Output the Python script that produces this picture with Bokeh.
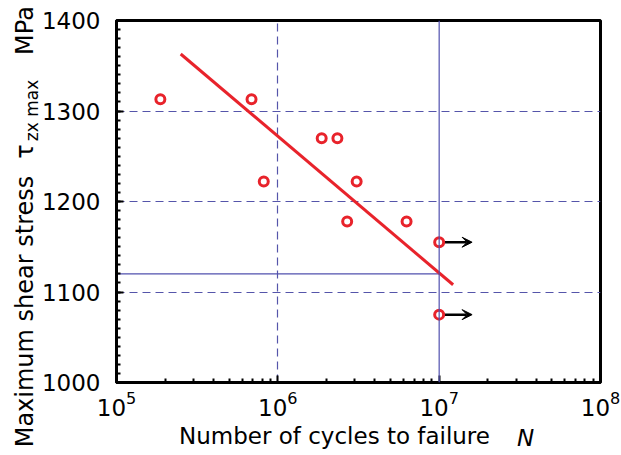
from bokeh.plotting import figure
from bokeh.models import FixedTicker, Arrow, VeeHead, Span, Range1d, LinearAxis, LinearScale
from bokeh.embed import file_html
from bokeh.resources import INLINE

# ---- data ----
cycles = [1.87e5, 6.87e5, 8.18e5, 1.87e6, 2.34e6, 3.08e6, 2.69e6, 6.28e6]
stress = [1313, 1313, 1222, 1270, 1270, 1222, 1178, 1178]
runout_cycles = [1.0e7, 1.0e7]
runout_stress = [1155, 1075]
fit_cycles = [2.5e5, 1.22e7]
fit_stress = [1363, 1108]
limit_cycles = [1.0e5, 1.0e7]
limit_stress = [1120, 1120]
knee_cycles = 1.0e7
x_major = [1e5, 1e6, 1e7, 1e8]
x_minor = [m * 10 ** e for e in (5, 6, 7) for m in range(2, 10)]
y_major = [1000, 1100, 1200, 1300, 1400]
y_minor = list(range(1000, 1401, 10))
xgrid_vals = [1e6]
ygrid_vals = [1100, 1200, 1300]
x_title = "Number of cycles to failure"
x_symbol = "N"
y_title = "Maximum shear stress"
y_symbol = "τ"
y_subscript = "zx max"
y_unit = "MPa"

RED = "#e8232b"
GRID = "#5555aa"
BLUE = "#5050ae"
FONT = "DejaVu Sans"

W, H = 621, 455
L, R, T, B = 116, 21, 20, 73

p = figure(width=W, height=H, x_axis_type="log", x_range=(1e5, 1e8),
           y_range=(1000, 1400), output_backend="svg", toolbar_location=None,
           min_border_left=L, min_border_right=R, min_border_top=T,
           min_border_bottom=B, background_fill_color="white",
           border_fill_color="white")

# pixel-like helper ranges used only to place the title pieces
p.extra_x_ranges = {"px": Range1d(L, W - R)}
p.extra_x_scales = {"px": LinearScale()}
p.extra_y_ranges = {"py": Range1d(H - B, T)}
p.extra_y_scales = {"py": LinearScale()}

p.outline_line_color = "black"
p.outline_line_width = 3

for ax in (p.xaxis[0], p.yaxis[0]):
    ax.axis_line_width = 3
    ax.axis_line_color = "black"
    ax.major_tick_in = 7
    ax.major_tick_out = 0
    ax.minor_tick_in = 4
    ax.minor_tick_out = 0
    ax.major_tick_line_width = 2
    ax.minor_tick_line_width = 2
    ax.major_tick_line_color = "black"
    ax.minor_tick_line_color = "black"
    ax.major_label_text_font = FONT
    ax.major_label_text_font_size = "23px"
    ax.major_label_text_color = "black"

p.xaxis.ticker = FixedTicker(ticks=x_major, minor_ticks=x_minor)
p.xaxis.major_label_standoff = 8
p.yaxis.ticker = FixedTicker(ticks=y_major, minor_ticks=y_minor)
p.yaxis.major_label_standoff = 16


def text_axis(rng_name, ticks, labels, size, standoff, style="normal", orient="horizontal", side="below"):
    kw = {"x_range_name": rng_name} if side == "below" else {"y_range_name": rng_name}
    ax = LinearAxis(**kw)
    ax.ticker = FixedTicker(ticks=ticks)
    ax.major_label_overrides = dict(zip(ticks, labels))
    ax.major_label_text_font = FONT
    ax.major_label_text_font_size = size
    ax.major_label_text_font_style = style
    ax.major_label_text_color = "black"
    ax.major_label_standoff = standoff
    ax.major_label_orientation = orient
    ax.axis_line_color = None
    ax.major_tick_line_color = None
    ax.minor_tick_line_color = None
    ax.major_tick_in = 0
    ax.major_tick_out = 0
    ax.minor_tick_in = 0
    ax.minor_tick_out = 0
    p.add_layout(ax, side)
    return ax


# x title pieces (screen-like x positions)
text_axis("px", [334], [x_title], "23px", 4)
text_axis("px", [525], [x_symbol], "23px", -27, style="italic")

# y title pieces (screen-like y positions)
text_axis("py", [110], [y_subscript], "17px", -3, orient="vertical", side="left")
text_axis("py", [311, 151, 30], [y_title, y_symbol, y_unit], "24px", -20,
          orient="vertical", side="left")

p.xgrid.ticker = FixedTicker(ticks=xgrid_vals)
p.ygrid.ticker = FixedTicker(ticks=ygrid_vals)
for g in (p.xgrid[0], p.ygrid[0]):
    g.grid_line_color = GRID
    g.grid_line_dash = "8 5"
    g.grid_line_width = 1.2

p.add_layout(Span(location=knee_cycles, dimension="height", line_color=BLUE,
                  line_width=1.2))
p.line(limit_cycles, limit_stress, line_color=BLUE, line_width=1.2)
p.line(fit_cycles, fit_stress, line_color=RED, line_width=3)

for n, s in zip(runout_cycles, runout_stress):
    p.add_layout(Arrow(end=VeeHead(size=10, fill_color="black", line_color="black"),
                       x_start=n, y_start=s, x_end=n * 1.6, y_end=s,
                       line_color="black", line_width=2.5, level="underlay"))

p.scatter(cycles, stress, size=9, line_color=RED, fill_color="white", line_width=3)
p.scatter(runout_cycles, runout_stress, size=9, line_color=RED, fill_color="white",
          line_width=3)

open("out.html", "w").write(file_html(p, INLINE))
